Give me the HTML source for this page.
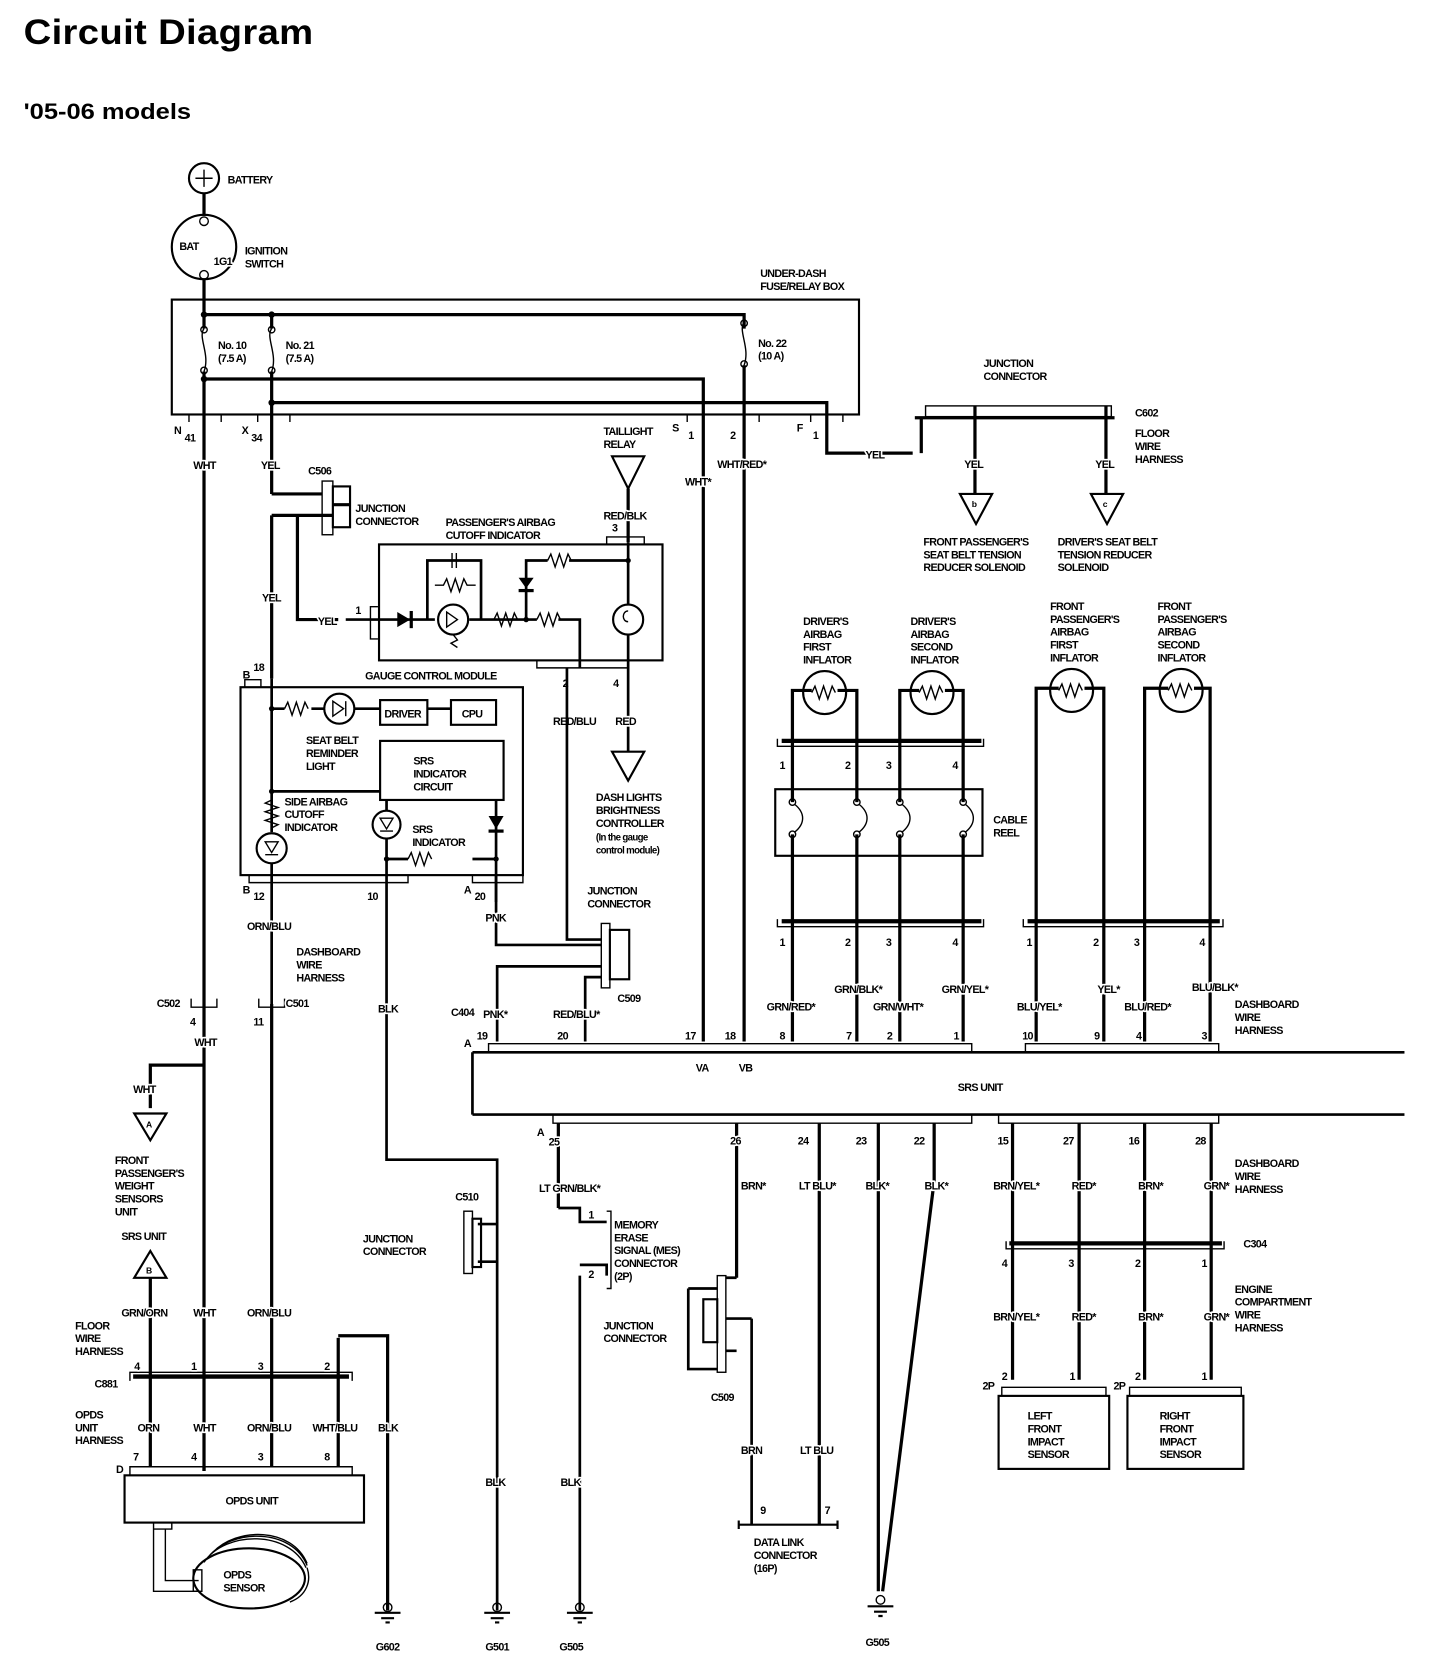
<!DOCTYPE html>
<html><head><meta charset="utf-8"><style>
html,body{margin:0;padding:0;background:#fff}
svg{display:block}
text{font-family:"Liberation Sans",Arial,sans-serif;font-weight:bold;fill:#000}
.t{font-size:10px;letter-spacing:-0.6px;paint-order:stroke;stroke:#fff;stroke-width:3px;stroke-linejoin:round}
.w{fill:none;stroke:#000;stroke-width:3}
.b{fill:none;stroke:#000;stroke-width:2}
.n{fill:none;stroke:#000;stroke-width:1.3}
</style></head><body>
<svg width="1456" height="1674" viewBox="0 0 1356 1559" xmlns="http://www.w3.org/2000/svg">
<rect width="1356" height="1559" fill="#fff"/>
<text x="22" y="41" style="font-size:33px;letter-spacing:0.3px" textLength="270" lengthAdjust="spacingAndGlyphs">Circuit Diagram</text>
<text x="22" y="111" style="font-size:21px" textLength="156" lengthAdjust="spacingAndGlyphs">'05-06 models</text>

<!-- battery / ignition -->
<circle cx="190" cy="166" r="14" class="b"/><path d="M182 166h16M190 158v16" class="n"/>
<text class="t" x="212" y="171">BATTERY</text>
<path d="M190 180v21" class="w"/>
<circle cx="190" cy="230" r="30" class="b"/>
<circle cx="190" cy="206" r="4" class="n" fill="#fff"/><circle cx="190" cy="256" r="4" class="n" fill="#fff"/>
<text class="t" x="167" y="233">BAT</text><text class="t" x="199" y="247">1G1</text>
<text class="t" x="228" y="237">IGNITION</text><text class="t" x="228" y="249">SWITCH</text>

<!-- fuse box -->
<rect x="160" y="279" width="640" height="107" class="b"/>
<text class="t" x="708" y="258">UNDER-DASH</text><text class="t" x="708" y="270">FUSE/RELAY BOX</text>
<path d="M190 260V306M190 346V1370M253 293V306M253 346V460M190 293H693V306M693 340V970" class="w"/>
<path d="M190 306c-6 8 6 24 0 40M253 306c-6 8 6 24 0 40M693 300c-6 8 6 24 0 40" class="n"/>
<circle cx="190" cy="307" r="3" fill="#fff" class="n"/><circle cx="190" cy="345" r="3" fill="#fff" class="n"/>
<circle cx="253" cy="307" r="3" fill="#fff" class="n"/><circle cx="253" cy="345" r="3" fill="#fff" class="n"/>
<circle cx="693" cy="301" r="3" fill="#fff" class="n"/><circle cx="693" cy="339" r="3" fill="#fff" class="n"/>
<circle cx="190" cy="293" r="3"/><circle cx="253" cy="293" r="3"/><circle cx="190" cy="353" r="3"/><circle cx="253" cy="375" r="3"/>
<text class="t" x="203" y="325">No. 10</text><text class="t" x="203" y="337">(7.5 A)</text>
<text class="t" x="266" y="325">No. 21</text><text class="t" x="266" y="337">(7.5 A)</text>
<text class="t" x="706" y="323">No. 22</text><text class="t" x="706" y="335">(10 A)</text>
<path d="M190 353H655V970M253 375H770V422H850" class="w"/>
<path d="M176 393v-7h30v7M240 393v-7h30v7M640 393v-7h67v7M755 393v-7h30v7" class="n"/>
<text class="t" x="162" y="404">N</text><text class="t" x="172" y="411">41</text>
<text class="t" x="225" y="404">X</text><text class="t" x="234" y="411">34</text>
<text class="t" x="626" y="402">S</text><text class="t" x="641" y="409">1</text><text class="t" x="680" y="409">2</text>
<text class="t" x="742" y="402">F</text><text class="t" x="757" y="409">1</text>
<text class="t" x="180" y="437">WHT</text><text class="t" x="243" y="437">YEL</text>
<text class="t" x="806" y="427">YEL</text>
<text class="t" x="638" y="452">WHT*</text><text class="t" x="668" y="436">WHT/RED*</text>

<!-- junction connector C602 -->
<text class="t" x="916" y="342">JUNCTION</text><text class="t" x="916" y="354">CONNECTOR</text>
<rect x="862" y="378" width="173" height="10" class="n"/>
<path d="M852 389H1038M858 389V422M908 378V460M1030 378V460" class="w"/>
<text class="t" x="1057" y="388">C602</text>
<text class="t" x="1057" y="407">FLOOR</text><text class="t" x="1057" y="419">WIRE</text><text class="t" x="1057" y="431">HARNESS</text>
<text class="t" x="898" y="436">YEL</text><text class="t" x="1020" y="436">YEL</text>
<path d="M894 460h30l-15 28z" class="b"/><text class="t" x="905" y="472" style="font-size:8px">b</text>
<path d="M1016 460h30l-15 28z" class="b"/><text class="t" x="1027" y="472" style="font-size:8px">c</text>
<text class="t" x="860" y="508">FRONT PASSENGER'S</text><text class="t" x="860" y="520">SEAT BELT TENSION</text><text class="t" x="860" y="532">REDUCER SOLENOID</text>
<text class="t" x="985" y="508">DRIVER'S SEAT BELT</text><text class="t" x="985" y="520">TENSION REDUCER</text><text class="t" x="985" y="532">SOLENOID</text>

<!-- taillight relay -->
<text class="t" x="562" y="405">TAILLIGHT</text><text class="t" x="562" y="417">RELAY</text>
<path d="M570 425h30l-15 30z" class="b"/>
<path d="M585 455V505" class="w"/>
<text class="t" x="562" y="484">RED/BLK</text><text class="t" x="570" y="495">3</text>

<!-- C506 junction -->
<text class="t" x="287" y="442">C506</text>
<rect x="300" y="448" width="10" height="50" class="n"/>
<rect x="310" y="453" width="16" height="38" class="b"/>
<path d="M253 460H300M253 480H310M277 480V577H315M326 470H310" class="w"/>
<text class="t" x="331" y="477">JUNCTION</text><text class="t" x="331" y="489">CONNECTOR</text>
<path d="M253 480V632" class="w"/>
<text class="t" x="244" y="560">YEL</text><text class="t" x="296" y="582">YEL</text>

<!-- passenger airbag cutoff indicator -->
<text class="t" x="415" y="490">PASSENGER'S AIRBAG</text><text class="t" x="415" y="502">CUTOFF INDICATOR</text>
<rect x="353" y="507" width="264" height="108" class="b"/>
<path d="M565 507v-7h35v7M500 615v7h85v-7M352 565h-7v30h7" class="n"/>
<text class="t" x="331" y="572">1</text>
<path d="M322 577H405M437 577H500M520 577H540V622M398 577V522H448V577M490 577V522H510M530 522H585M585 505V563M585 591V700" class="w" style="stroke-width:2.5"/>
<path d="M370 570l12 7-12 7z"/><path d="M383 569v16" class="w"/>
<circle cx="422" cy="577" r="14" class="b"/><path d="M416 570l10 7-10 7z" class="n"/><path d="M422 591l4 5-6 3 6 4" class="n"/>
<path d="M415 522h6M425 522h6M421 515v14M425 515v14" class="n"/>
<path d="M405 545h8l3-6 4 12 4-12 4 12 4-12 3 6h8" class="n"/>
<path d="M460 577l3-6 4 12 4-12 4 12 4-12 3 6M500 577l3-6 4 12 4-12 4 12 4-12 3 6M510 522l3-6 4 12 4-12 4 12 4-12 3 6" class="n"/>
<path d="M483 538h14l-7 10z"/><path d="M483 550h14" class="w"/>
<circle cx="490" cy="577" r="2.5"/><circle cx="585" cy="522" r="2.5"/>
<circle cx="585" cy="577" r="14" class="b" fill="#fff"/><path d="M585 569c-6 0-6 10 0 10" class="n"/>
<text class="t" x="524" y="640">2</text><text class="t" x="571" y="640">4</text>
<text class="t" x="515" y="675">RED/BLU</text><text class="t" x="573" y="675">RED</text>
<path d="M570 700h30l-15 27z" class="b"/>
<text class="t" x="555" y="746">DASH LIGHTS</text><text class="t" x="555" y="758">BRIGHTNESS</text><text class="t" x="555" y="770">CONTROLLER</text>
<text class="t" x="555" y="783" style="font-size:9px">(In the gauge</text><text class="t" x="555" y="795" style="font-size:9px">control module)</text>

<!-- gauge control module -->
<text class="t" x="226" y="632">B</text><text class="t" x="236" y="625">18</text>
<text class="t" x="340" y="633">GAUGE CONTROL MODULE</text>
<rect x="224" y="640" width="263" height="175" class="b"/>
<path d="M228 640v-7h15v7M232 815v7h148v-7M440 815v7h47v-7" class="n"/>
<path d="M253 632V775M253 804V935M253 660H265M290 660H302M330 660H354M398 660H420M253 737H354M360 745V755M360 781V840M462 745V840M360 800H380M440 800H462" class="w" style="stroke-width:2.5"/>
<path d="M265 660l3-6 4 12 4-12 4 12 4-12 3 6M380 800l3-6 4 12 4-12 4 12 4-12 3 6" class="n"/>
<path d="M253 745l-6 3 12 4-12 4 12 4-12 4 12 4-6 3" class="n"/>
<circle cx="316" cy="660" r="14" class="b"/><path d="M310 653l10 7-10 7z" class="n"/><path d="M322 653v14" class="n"/>
<rect x="354" y="652" width="44" height="23" class="b"/><text class="t" x="358" y="668">DRIVER</text>
<rect x="420" y="652" width="42" height="23" class="b"/><text class="t" x="430" y="668">CPU</text>
<rect x="354" y="690" width="115" height="55" class="b"/>
<text class="t" x="385" y="712">SRS</text><text class="t" x="385" y="724">INDICATOR</text><text class="t" x="385" y="736">CIRCUIT</text>
<text class="t" x="285" y="693">SEAT BELT</text><text class="t" x="285" y="705">REMINDER</text><text class="t" x="285" y="717">LIGHT</text>
<text class="t" x="265" y="750">SIDE AIRBAG</text><text class="t" x="265" y="762">CUTOFF</text><text class="t" x="265" y="774">INDICATOR</text>
<circle cx="253" cy="790" r="14" class="b"/><path d="M247 784h12l-6 10z M247 796h12" class="n"/>
<circle cx="360" cy="768" r="13" class="b"/><path d="M354 762h12l-6 10z M354 774h12" class="n"/>
<path d="M455 760h14l-7 12z"/><path d="M455 774h14" class="w"/>
<circle cx="253" cy="660" r="2.5"/><circle cx="253" cy="737" r="2.5"/><circle cx="360" cy="800" r="2.5"/><circle cx="462" cy="800" r="2.5"/>
<text class="t" x="384" y="776">SRS</text><text class="t" x="384" y="788">INDICATOR</text>
<text class="t" x="226" y="832">B</text><text class="t" x="236" y="838">12</text><text class="t" x="342" y="838">10</text>
<text class="t" x="432" y="832">A</text><text class="t" x="442" y="838">20</text>
<text class="t" x="230" y="866">ORN/BLU</text>
<text class="t" x="276" y="890">DASHBOARD</text><text class="t" x="276" y="902">WIRE</text><text class="t" x="276" y="914">HARNESS</text>

<!-- C509 upper -->
<text class="t" x="547" y="833">JUNCTION</text><text class="t" x="547" y="845">CONNECTOR</text>
<path d="M528 622V875H560M462 815V880H560M560 900H463V970M560 910H545V970" class="w" style="stroke-width:2.5"/>
<rect x="560" y="860" width="8" height="60" class="n"/><rect x="568" y="866" width="18" height="46" class="b"/>
<text class="t" x="452" y="858">PNK</text>
<text class="t" x="575" y="933">C509</text>
<text class="t" x="420" y="946">C404</text><text class="t" x="450" y="948">PNK*</text><text class="t" x="515" y="948">RED/BLU*</text>

<!-- C502 C501 -->
<path d="M178 930v8h24v-8M241 930v8h24v-8" class="n"/>
<text class="t" x="146" y="938">C502</text><text class="t" x="266" y="938">C501</text>
<text class="t" x="177" y="955">4</text><text class="t" x="236" y="955">11</text>

<!-- SRS unit -->
<path d="M440 980H1308M440 1038H1308M440 980V1038" class="b" style="stroke-width:2.5"/>
<path d="M455 980v-8h450v8M955 980v-8h180v8M515 1038v8h390v-8M930 1038v8h205v-8" class="n"/>
<text class="t" x="432" y="975">A</text>
<text class="t" x="444" y="968">19</text><text class="t" x="519" y="968">20</text><text class="t" x="638" y="968">17</text><text class="t" x="675" y="968">18</text>
<text class="t" x="726" y="968">8</text><text class="t" x="788" y="968">7</text><text class="t" x="826" y="968">2</text><text class="t" x="888" y="968">1</text>
<text class="t" x="952" y="968">10</text><text class="t" x="1019" y="968">9</text><text class="t" x="1058" y="968">4</text><text class="t" x="1119" y="968">3</text>
<text class="t" x="648" y="998">VA</text><text class="t" x="688" y="998">VB</text>
<text class="t" x="892" y="1016">SRS UNIT</text>
<text class="t" x="1150" y="939">DASHBOARD</text><text class="t" x="1150" y="951">WIRE</text><text class="t" x="1150" y="963">HARNESS</text>

<!-- inflators -->
<text class="t" x="748" y="582">DRIVER'S</text><text class="t" x="748" y="594">AIRBAG</text><text class="t" x="748" y="606">FIRST</text><text class="t" x="748" y="618">INFLATOR</text>
<text class="t" x="848" y="582">DRIVER'S</text><text class="t" x="848" y="594">AIRBAG</text><text class="t" x="848" y="606">SECOND</text><text class="t" x="848" y="618">INFLATOR</text>
<text class="t" x="978" y="568">FRONT</text><text class="t" x="978" y="580">PASSENGER'S</text><text class="t" x="978" y="592">AIRBAG</text><text class="t" x="978" y="604">FIRST</text><text class="t" x="978" y="616">INFLATOR</text>
<text class="t" x="1078" y="568">FRONT</text><text class="t" x="1078" y="580">PASSENGER'S</text><text class="t" x="1078" y="592">AIRBAG</text><text class="t" x="1078" y="604">SECOND</text><text class="t" x="1078" y="616">INFLATOR</text>
<g class="b"><circle cx="768" cy="645" r="20"/><circle cx="868" cy="645" r="20"/><circle cx="998" cy="643" r="20"/><circle cx="1100" cy="643" r="20"/></g>
<path d="M756 645l3-6 4 12 4-12 4 12 4-12 3 6M856 645l3-6 4 12 4-12 4 12 4-12 3 6M986 643l3-6 4 12 4-12 4 12 4-12 3 6M1088 643l3-6 4 12 4-12 4 12 4-12 3 6" class="n"/>
<path d="M756 643H738V747M780 643H798V747M856 643H838V747M880 643H897V747M986 641H965V970M1010 641H1028V970M1088 641H1066V970M1112 641H1127V970" class="w"/>
<path d="M738 777V970M798 777V970M838 777V970M897 777V970" class="w"/>
<path d="M728 690H914M728 858H914M957 858H1136" class="w" style="stroke-width:4"/>
<path d="M724 688v7h192v-7M724 856v7h192v-7M953 856v7h186v-7" class="n"/>
<rect x="722" y="735" width="193" height="62" class="b"/>
<g class="n" fill="#fff">
<circle cx="738" cy="747" r="3"/><circle cx="738" cy="777" r="3"/><path d="M740 749c10 8 10 18 0 26" fill="none"/>
<circle cx="798" cy="747" r="3"/><circle cx="798" cy="777" r="3"/><path d="M800 749c10 8 10 18 0 26" fill="none"/>
<circle cx="838" cy="747" r="3"/><circle cx="838" cy="777" r="3"/><path d="M840 749c10 8 10 18 0 26" fill="none"/>
<circle cx="897" cy="747" r="3"/><circle cx="897" cy="777" r="3"/><path d="M899 749c10 8 10 18 0 26" fill="none"/></g>
<text class="t" x="925" y="767">CABLE</text><text class="t" x="925" y="779">REEL</text>
<text class="t" x="726" y="716">1</text><text class="t" x="787" y="716">2</text><text class="t" x="825" y="716">3</text><text class="t" x="887" y="716">4</text>
<text class="t" x="726" y="881">1</text><text class="t" x="787" y="881">2</text><text class="t" x="825" y="881">3</text><text class="t" x="887" y="881">4</text>
<text class="t" x="956" y="881">1</text><text class="t" x="1018" y="881">2</text><text class="t" x="1056" y="881">3</text><text class="t" x="1117" y="881">4</text>
<text class="t" x="714" y="941">GRN/RED*</text><text class="t" x="777" y="925">GRN/BLK*</text><text class="t" x="813" y="941">GRN/WHT*</text><text class="t" x="877" y="925">GRN/YEL*</text>
<text class="t" x="947" y="941">BLU/YEL*</text><text class="t" x="1022" y="925">YEL*</text><text class="t" x="1047" y="941">BLU/RED*</text><text class="t" x="1110" y="923">BLU/BLK*</text>

<!-- bottom SRS pins -->
<path d="M520 1046V1125M686 1046V1190M763 1046V1420M818 1046V1482M870 1046V1100L822 1482M943 1046V1285M1005 1046V1285M1066 1046V1285M1128 1046V1285" class="w"/>
<text class="t" x="500" y="1058">A</text><text class="t" x="511" y="1067">25</text>
<text class="t" x="680" y="1066">26</text><text class="t" x="743" y="1066">24</text><text class="t" x="797" y="1066">23</text><text class="t" x="851" y="1066">22</text>
<text class="t" x="929" y="1066">15</text><text class="t" x="990" y="1066">27</text><text class="t" x="1051" y="1066">16</text><text class="t" x="1113" y="1066">28</text>
<text class="t" x="502" y="1110">LT GRN/BLK*</text><text class="t" x="690" y="1108">BRN*</text><text class="t" x="744" y="1108">LT BLU*</text><text class="t" x="806" y="1108">BLK*</text><text class="t" x="861" y="1108">BLK*</text>
<text class="t" x="925" y="1108">BRN/YEL*</text><text class="t" x="998" y="1108">RED*</text><text class="t" x="1060" y="1108">BRN*</text><text class="t" x="1121" y="1108">GRN*</text>
<text class="t" x="1150" y="1087">DASHBOARD</text><text class="t" x="1150" y="1099">WIRE</text><text class="t" x="1150" y="1111">HARNESS</text>
<path d="M940 1158H1138" class="w" style="stroke-width:4"/><path d="M937 1156v7h203v-7" class="n"/>
<text class="t" x="1158" y="1162">C304</text>
<text class="t" x="933" y="1180">4</text><text class="t" x="995" y="1180">3</text><text class="t" x="1057" y="1180">2</text><text class="t" x="1119" y="1180">1</text>
<text class="t" x="925" y="1230">BRN/YEL*</text><text class="t" x="998" y="1230">RED*</text><text class="t" x="1060" y="1230">BRN*</text><text class="t" x="1121" y="1230">GRN*</text>
<text class="t" x="1150" y="1204">ENGINE</text><text class="t" x="1150" y="1216">COMPARTMENT</text><text class="t" x="1150" y="1228">WIRE</text><text class="t" x="1150" y="1240">HARNESS</text>
<text class="t" x="915" y="1294">2P</text><text class="t" x="933" y="1285">2</text><text class="t" x="996" y="1285">1</text>
<text class="t" x="1037" y="1294">2P</text><text class="t" x="1057" y="1285">2</text><text class="t" x="1119" y="1285">1</text>
<path d="M933 1300v-8h97v8M1052 1300v-8h104v8" class="n"/>
<rect x="930" y="1300" width="103" height="68" class="b"/><rect x="1050" y="1300" width="108" height="68" class="b"/>
<text class="t" x="957" y="1322">LEFT</text><text class="t" x="957" y="1334">FRONT</text><text class="t" x="957" y="1346">IMPACT</text><text class="t" x="957" y="1358">SENSOR</text>
<text class="t" x="1080" y="1322">RIGHT</text><text class="t" x="1080" y="1334">FRONT</text><text class="t" x="1080" y="1346">IMPACT</text><text class="t" x="1080" y="1358">SENSOR</text>

<!-- MES connector -->
<path d="M520 1125H540V1138H565M540 1178H565V1188M540 1188V1500" class="w" style="stroke-width:2.5"/>
<path d="M565 1128h4v72h-4" class="n"/>
<text class="t" x="548" y="1135">1</text><text class="t" x="548" y="1190">2</text>
<text class="t" x="572" y="1144">MEMORY</text><text class="t" x="572" y="1156">ERASE</text><text class="t" x="572" y="1168">SIGNAL (MES)</text><text class="t" x="572" y="1180">CONNECTOR</text><text class="t" x="572" y="1192">(2P)</text>
<text class="t" x="522" y="1384">BLK</text>

<!-- C509 lower -->
<text class="t" x="562" y="1238">JUNCTION</text><text class="t" x="562" y="1250">CONNECTOR</text>
<rect x="668" y="1188" width="8" height="90" class="n"/>
<rect x="655" y="1210" width="13" height="40" class="b"/>
<path d="M686 1190H676M641 1200H668M641 1200V1275H668M676 1228H700M676 1258H686M700 1228V1420" class="w" style="stroke-width:2.5"/>
<text class="t" x="662" y="1305">C509</text>
<text class="t" x="690" y="1354">BRN</text><text class="t" x="745" y="1354">LT BLU</text>
<path d="M688 1420h92M688 1416v8M780 1416v8" class="w" style="stroke-width:2"/>
<text class="t" x="708" y="1410">9</text><text class="t" x="768" y="1410">7</text>
<text class="t" x="702" y="1440">DATA LINK</text><text class="t" x="702" y="1452">CONNECTOR</text><text class="t" x="702" y="1464">(16P)</text>

<!-- C510 and BLK to G501 -->
<path d="M360 840V1080H463V1500M445 1140H463M445 1175H463" class="w" style="stroke-width:2.5"/>
<rect x="432" y="1128" width="8" height="58" class="n"/><rect x="440" y="1135" width="8" height="45" class="b"/>
<text class="t" x="352" y="943">BLK</text>
<text class="t" x="424" y="1118">C510</text>
<text class="t" x="338" y="1157">JUNCTION</text><text class="t" x="338" y="1169">CONNECTOR</text>
<text class="t" x="452" y="1384">BLK</text>

<!-- left lower -->
<path d="M190 992H140V1032M140 1190V1282" class="w"/>
<text class="t" x="181" y="974">WHT</text>
<text class="t" x="124" y="1018">WHT</text>
<path d="M125 1037h30l-15 25z" class="b"/><text class="t" x="136" y="1050" style="font-size:8px">A</text>
<text class="t" x="107" y="1084">FRONT</text><text class="t" x="107" y="1096">PASSENGER'S</text><text class="t" x="107" y="1108">WEIGHT</text><text class="t" x="107" y="1120">SENSORS</text><text class="t" x="107" y="1132">UNIT</text>
<text class="t" x="113" y="1155">SRS UNIT</text>
<path d="M125 1190h30l-15 -25z" class="b"/><text class="t" x="136" y="1186" style="font-size:8px">B</text>
<path d="M124 1282H325" class="w" style="stroke-width:4"/><path d="M121 1286v-8h207v8" class="n"/>
<path d="M140 1282V1366M190 1370V1366M253 935V1366M315 1246V1366M315 1244H361V1500" class="w"/>
<text class="t" x="113" y="1226">GRN/ORN</text><text class="t" x="180" y="1226">WHT</text><text class="t" x="230" y="1226">ORN/BLU</text>
<text class="t" x="70" y="1238">FLOOR</text><text class="t" x="70" y="1250">WIRE</text><text class="t" x="70" y="1262">HARNESS</text>
<text class="t" x="125" y="1276">4</text><text class="t" x="178" y="1276">1</text><text class="t" x="240" y="1276">3</text><text class="t" x="302" y="1276">2</text>
<text class="t" x="88" y="1292">C881</text>
<text class="t" x="70" y="1321">OPDS</text><text class="t" x="70" y="1333">UNIT</text><text class="t" x="70" y="1345">HARNESS</text>
<text class="t" x="128" y="1333">ORN</text><text class="t" x="180" y="1333">WHT</text><text class="t" x="230" y="1333">ORN/BLU</text><text class="t" x="291" y="1333">WHT/BLU</text><text class="t" x="352" y="1333">BLK</text>
<text class="t" x="124" y="1360">7</text><text class="t" x="178" y="1360">4</text><text class="t" x="240" y="1360">3</text><text class="t" x="302" y="1360">8</text>
<text class="t" x="108" y="1372">D</text>
<path d="M121 1374v-8h207v8" class="n"/>
<rect x="116" y="1374" width="223" height="44" class="b"/>
<text class="t" x="210" y="1401">OPDS UNIT</text>
<path d="M143 1418v6h17v-6M143 1424v58h42M154 1424v48h31" class="n"/>
<ellipse cx="232" cy="1470" rx="52" ry="28" class="b" fill="#fff"/>
<path d="M190 1455c20-30 80-30 95 5M194 1450c22-27 78-27 92 8M198 1446c22-24 74-24 88 10M270 1492c16-6 20-20 16-32" class="n"/>
<rect x="180" y="1462" width="8" height="20" class="n" fill="#fff"/>
<text class="t" x="208" y="1470">OPDS</text><text class="t" x="208" y="1482">SENSOR</text>

<!-- grounds -->
<g class="n">
<circle cx="361" cy="1497" r="4"/><path d="M349 1502h24M355 1507h12M359 1511h4" style="stroke-width:2"/>
<circle cx="463" cy="1497" r="4"/><path d="M451 1502h24M457 1507h12M461 1511h4" style="stroke-width:2"/>
<circle cx="540" cy="1497" r="4"/><path d="M528 1502h24M534 1507h12M538 1511h4" style="stroke-width:2"/>
<circle cx="820" cy="1490" r="4"/><path d="M808 1496h24M814 1501h12M818 1505h4" style="stroke-width:2"/>
</g>
<text class="t" x="350" y="1537">G602</text><text class="t" x="452" y="1537">G501</text><text class="t" x="521" y="1537">G505</text><text class="t" x="806" y="1533">G505</text>
</svg>
</body></html>
